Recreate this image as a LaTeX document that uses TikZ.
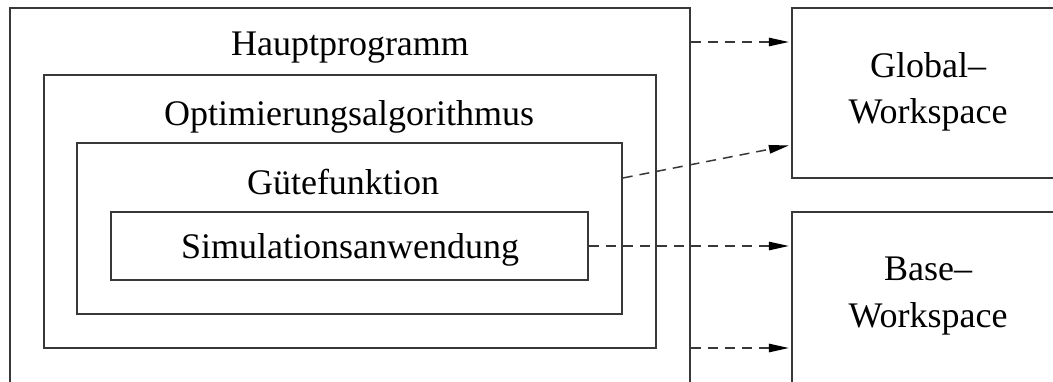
\documentclass[tikz,border=0pt]{standalone}
\usepackage{fontspec}
\setmainfont{Liberation Serif}
\usetikzlibrary{arrows.meta,fit}
\begin{document}
\begin{tikzpicture}[x=0.5pt,y=-0.5pt,
  frame/.style={draw=black!78, line width=0.75pt, inner sep=0pt, rectangle},
  txt/.style={font=\fontsize{18}{23}\selectfont, inner sep=0pt, anchor=base},
  link/.style={draw=black!78, line width=0.75pt, dash pattern=on 5pt off 3.5pt,
    shorten >=1.2pt, -{Triangle[length=10pt,width=4.2pt,color=black,fill=black]}}]
\useasboundingbox (0,0) rectangle (1053,381);
\clip (0,0) rectangle (1053,381);

% nested program levels
\node[frame, fit={(10,8) (690,420)}] (haupt) {};
\node[frame, fit={(44,75) (656,348)}] (optim) {};
\node[frame, fit={(77,143) (622,314)}] (guete) {};
\node[frame, fit={(111,212) (588,280)}] (sim) {};

% workspaces
\node[frame, fit={(792,8) (1070,178)}] (global) {};
\node[frame, fit={(792,212) (1070,420)}] (base) {};

% labels
\node[txt] (thaupt) at (350,55) {Hauptprogramm};
\node[txt] (toptim) at (349,125) {Optimierungsalgorithmus};
\node[txt] (tguete) at (343,194) {Gütefunktion};
\node[txt] (tsim) at (350,258) {Simulationsanwendung};
\node[txt] (tglob1) at (928,77) {Global–};
\node[txt] (tglob2) at (928,123) {Workspace};
\node[txt] (tbase1) at (928,280) {Base–};
\node[txt] (tbase2) at (928,327) {Workspace};

% connector end points
\coordinate (h1) at (haupt.east |- 0,42);
\coordinate (g1) at (global.west |- 0,42);
\coordinate (q1) at (guete.east |- 0,178);
\coordinate (g2) at (global.west |- 0,145);
\coordinate (s1) at (sim.east |- 0,246);
\coordinate (b1) at (base.west |- 0,246);
\coordinate (h2) at (haupt.east |- 0,348);
\coordinate (b2) at (base.west |- 0,348);

\draw[link] (h1) -- (g1);
\draw[link] (q1) -- (g2);
\draw[link] (s1) -- (b1);
\draw[link] (h2) -- (b2);
\end{tikzpicture}
\end{document}
